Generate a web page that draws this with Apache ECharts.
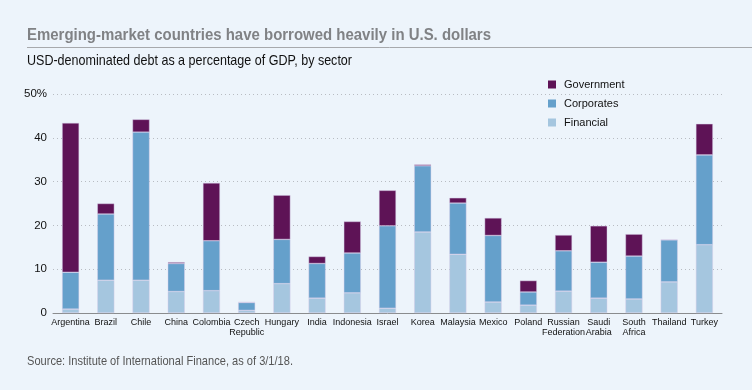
<!DOCTYPE html>
<html><head><meta charset="utf-8">
<script src="https://cdn.jsdelivr.net/npm/echarts@6/dist/echarts.min.js"></script>
<style>html,body{margin:0;padding:0;background:#edf4fb}#c{width:752px;height:390px}</style>
</head><body><div id="c"></div>
<script>
const categories = ["Argentina","Brazil","Chile","China","Colombia","Czech\nRepublic","Hungary","India","Indonesia","Israel","Korea","Malaysia","Mexico","Poland","Russian\nFederation","Saudi\nArabia","South\nAfrica","Thailand","Turkey"];
const financial =  [0.9, 7.5, 7.5, 4.9, 5.1, 0.6, 6.7, 3.4, 4.6, 1.1, 18.5, 13.4, 2.5, 1.8, 5.0, 3.4, 3.2, 7.1, 15.6];
const corporates = [8.4, 15.1, 33.8, 6.4, 11.4, 1.8, 10.1, 7.9, 9.1, 18.8, 15.1, 11.7, 15.2, 3.0, 9.2, 8.2, 9.8, 9.6, 20.5];
const government = [34.1, 2.4, 2.9, 0.3, 13.2, 0.1, 10.1, 1.6, 7.2, 8.1, 0.3, 1.2, 4.0, 2.6, 3.6, 8.3, 5.0, 0.1, 7.1];
const yTicks = [0, 10, 20, 30, 40, 50];

const F = '"Liberation Sans",Arial,sans-serif';
const mctx = document.createElement('canvas').getContext('2d');
function fitScale(text, font, w){ mctx.font = font; return w / mctx.measureText(text).width; }
function txt(text, font, x, y, w, fill){
  return {type:'text', x:x, y:y, scaleX:fitScale(text,font,w),
    style:{text:text, font:font, fill:fill, textVerticalAlign:'middle', verticalAlign:'middle'}};
}
const T1 = 'Emerging-market countries have borrowed heavily in U.S. dollars';
const T2 = 'USD-denominated debt as a percentage of GDP, by sector';
const T3 = 'Source: Institute of International Finance, as of 3/1/18.';

const chart = echarts.init(document.getElementById('c'), null, {renderer:'canvas'});
const barStyle = c => ({color:c, borderColor:'rgba(215,205,232,0.9)', borderWidth:0.5});
chart.setOption({
  backgroundColor:'#edf4fb',
  animation:false,
  textStyle:{fontFamily:F},
  graphic:[
    txt(T1, 'bold 16.5px '+F, 27, 35, 464, '#808285'),
    {type:'line', shape:{x1:27,y1:47.5,x2:752,y2:47.5}, style:{stroke:'#a7a9ac', lineWidth:1}},
    txt(T2, '14.5px '+F, 27, 61, 325, '#111'),
    txt(T3, '13px '+F, 27, 361, 266, '#555')
  ],
  legend:{
    orient:'vertical', left:543, top:74, itemWidth:8, itemHeight:8, itemGap:8, itemStyle:{borderWidth:0},
    data:['Government','Corporates','Financial'],
    textStyle:{fontFamily:F, fontSize:11, color:'#111', padding:[0,0,0,3]},
    icon:'rect'
  },
  grid:{left:53, right:30, top:94, bottom:77, containLabel:false},
  xAxis:{
    type:'category', data:categories,
    axisLine:{lineStyle:{color:'#8a8c8e', width:1}},
    axisTick:{show:false},
    axisLabel:{interval:0, fontSize:9, color:'#111', lineHeight:10, margin:5, fontFamily:F}
  },
  yAxis:{
    type:'value', min:yTicks[0], max:yTicks[yTicks.length-1], interval:10,
    axisLine:{show:false}, axisTick:{show:false},
    splitLine:{lineStyle:{color:'#b8bcc2', type:[1,3], width:1}},
    axisLabel:{fontSize:11.5, color:'#111', margin:6, fontFamily:F, formatter:v=> v===50 ? '50%' : String(v)}
  },
  series:[
    {name:'Financial', type:'bar', stack:'a', barWidth:17, data:financial, itemStyle:barStyle('#a5c6df')},
    {name:'Corporates', type:'bar', stack:'a', data:corporates, itemStyle:barStyle('#65a0cb')},
    {name:'Government', type:'bar', stack:'a', data:government, itemStyle:barStyle('#5e1356')}
  ]
});
</script></body></html>
